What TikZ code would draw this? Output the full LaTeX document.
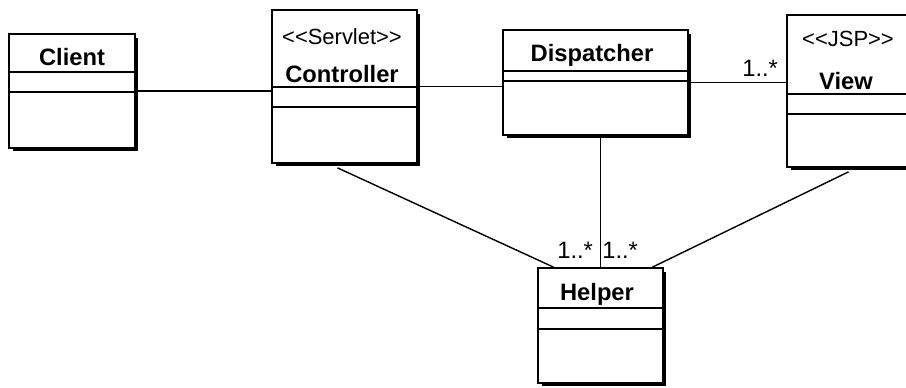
\documentclass[tikz,border=0pt]{standalone}
\usepackage{fontspec}
\setmainfont{Liberation Sans}
\usetikzlibrary{calc,positioning,shadows}

\begin{document}
\begin{tikzpicture}[
    x=0.02cm, y=-0.02cm,
    classbox/.style={draw, line width=1pt, fill=white, inner sep=0pt,
                     drop shadow={shadow xshift=0.07cm, shadow yshift=-0.07cm, opacity=1, fill=black}},
    classline/.style={line width=1pt},
    title/.style={font=\fontsize{13.5}{15}\selectfont\bfseries, anchor=base, inner sep=0pt},
    stereo/.style={font=\fontsize{12.5}{14}\selectfont, anchor=base, inner sep=0pt},
    mult/.style={font=\fontsize{13.5}{15}\selectfont, anchor=base west, inner sep=0pt},
    assoc/.style={line width=0.8pt}
  ]
  \useasboundingbox (0,0) rectangle (906,388);
  \clip (0,0) rectangle (906,388);

  % Clases
  \node[classbox, minimum width=2.52cm, minimum height=2.28cm] (client) at (72, 91) {};
  \node[classbox, minimum width=2.9cm, minimum height=3.06cm] (controller) at (344.5, 86.5) {};
  \node[classbox, minimum width=3.7cm, minimum height=2.1cm] (dispatcher) at (595.5, 82.5) {};
  \node[classbox, minimum width=2.5cm, minimum height=3.04cm] (view) at (849.5, 91) {};
  \node[classbox, minimum width=2.5cm, minimum height=2.3cm] (helper) at (600.5, 325.5) {};

  % Compartimentos
  \foreach \c/\a/\b in {client/39/59, controller/78/98, dispatcher/42/52, view/80/100, helper/41/62} {
    \draw[classline] ($(\c.north west)+(0,\a)$) -- ($(\c.north east)+(0,\a)$);
    \draw[classline] ($(\c.north west)+(0,\b)$) -- ($(\c.north east)+(0,\b)$);
  }

  % Nombres y estereotipos
  \node[title] (clientname) at (72, 66) {Client};
  \node[stereo] (controllerst) at (342, 45) {<{}<Servlet>{}>};
  \node[title] (controllername) at (342, 83) {Controller};
  \node[title] (dispatchername) at (592, 62) {Dispatcher};
  \node[stereo] (viewst) at (848, 47) {<{}<JSP>{}>};
  \node[title] (viewname) at (846, 90) {View};
  \node[title] (helpername) at (597, 300) {Helper};

  % Asociaciones
  \draw[assoc] (client.east) -- (controller.west |- client.east);
  \draw[assoc] (controller.east) -- (dispatcher.west |- controller.east);
  \draw[assoc] (dispatcher.east) -- (view.west |- dispatcher.east);
  \draw[assoc] (helper.north |- dispatcher.south) -- (helper.north);
  \draw[assoc] ([xshift=-0.14cm, yshift=-0.08cm]controller.south) -- ([xshift=-0.94cm]helper.north);
  \draw[assoc] ([xshift=-0.02cm, yshift=-0.08cm]view.south) -- ([xshift=1.04cm]helper.north);

  % Multiplicidades
  \node[mult] (multview) at (742, 77) {1..*};
  \node[mult] (multctrl) at (557, 258) {1..*};
  \node[mult] (multdisp) at (602, 258) {1..*};
\end{tikzpicture}
\end{document}
